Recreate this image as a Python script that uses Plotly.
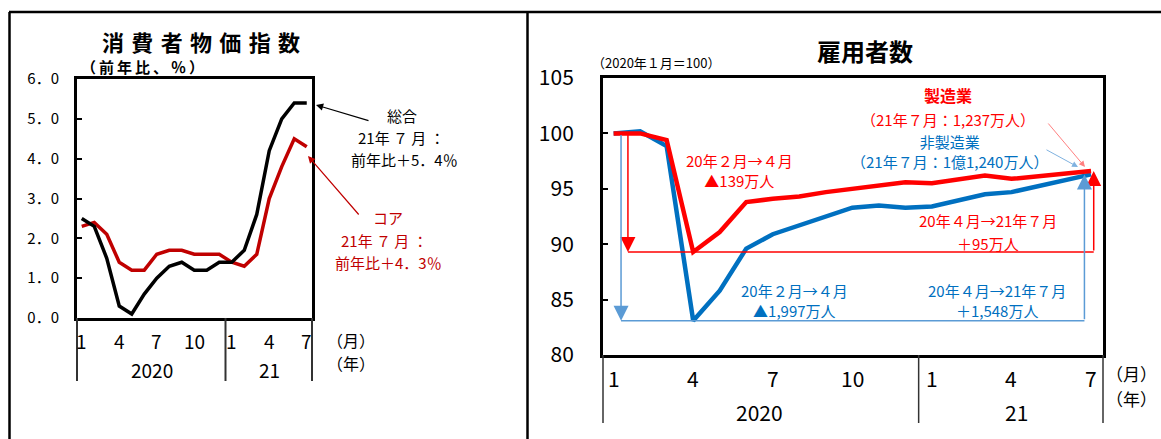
import plotly.graph_objects as go

W, H = 1161, 439

# ---------------- data ----------------
month_idx = list(range(19))  # 2020-01 ... 2021-07
month_ticks = [0, 3, 6, 9, 12, 15, 18]
month_labels = ["1", "4", "7", "10", "1", "4", "7"]
year_labels = ["2020", "21"]
year_centers_left = [5.6, 15.0]
year_centers_right = [5.5, 15.2]

cpi_total = [2.5, 2.3, 1.5, 0.3, 0.1, 0.6, 1.0, 1.3, 1.4, 1.2, 1.2, 1.4,
             1.4, 1.7, 2.6, 4.2, 5.0, 5.4, 5.4]
cpi_core = [2.3, 2.4, 2.1, 1.4, 1.2, 1.2, 1.6, 1.7, 1.7, 1.6, 1.6, 1.6,
            1.4, 1.3, 1.6, 3.0, 3.8, 4.5, 4.3]
cpi_yticks = [0, 1, 2, 3, 4, 5, 6]
cpi_yticktext = ["0．0", "1．0", "2．0", "3．0", "4．0", "5．0", "6．0"]

mfg = [100.0, 100.0, 99.4, 89.3, 91.1, 93.8, 94.1, 94.3, 94.7, 95.0, 95.3, 95.6,
       95.5, 95.8, 96.2, 95.9, 96.1, 96.4, 96.6]
nonmfg = [100.0, 100.2, 98.85, 83.1, 85.8, 89.6, 90.9, 91.7, 92.5, 93.3, 93.5, 93.3,
          93.4, 94.0, 94.5, 94.7, 95.2, 95.8, 96.3]
emp_yticks = [80, 85, 90, 95, 100, 105]

# ---------------- styles ----------------
JP = "Noto Sans CJK JP"
NARROW = "Liberation Sans Narrow, Arial Narrow, Noto Sans CJK JP"
BLACK = "#000000"
DRED = "#C00000"
RED = "#FF0000"
BLUE = "#0070C0"
LBLUE = "#5B9BD5"


def px_x(p):
    return p / W


def px_y(p):
    return 1 - p / H


fig = go.Figure()

# left chart lines
fig.add_trace(go.Scatter(x=month_idx, y=cpi_core, mode="lines",
                         line=dict(color=DRED, width=3.5), xaxis="x", yaxis="y",
                         showlegend=False, hoverinfo="skip"))
fig.add_trace(go.Scatter(x=month_idx, y=cpi_total, mode="lines",
                         line=dict(color=BLACK, width=3.5), xaxis="x", yaxis="y",
                         showlegend=False, hoverinfo="skip"))

# right chart lines
fig.add_trace(go.Scatter(x=month_idx, y=nonmfg, mode="lines",
                         line=dict(color=BLUE, width=4.5), xaxis="x2", yaxis="y2",
                         showlegend=False, hoverinfo="skip"))
fig.add_trace(go.Scatter(x=month_idx, y=mfg, mode="lines",
                         line=dict(color=RED, width=4.5), xaxis="x2", yaxis="y2",
                         showlegend=False, hoverinfo="skip"))

L_top, L_bot = 79, 318
R_top, R_bot = 78, 355

fig.update_layout(
    width=W, height=H,
    margin=dict(l=0, r=0, t=0, b=0, pad=0, autoexpand=False),
    paper_bgcolor="white", plot_bgcolor="white",
    xaxis=dict(domain=[px_x(77), px_x(312)], range=[-0.38, 18.42],
               showgrid=False, zeroline=False, showticklabels=False, ticks="",
               showline=True, mirror=True, linecolor=BLACK, linewidth=3),
    yaxis=dict(domain=[px_y(L_bot), px_y(L_top)], range=[0, 6],
               showgrid=False, zeroline=False, showline=True, mirror=True,
               linecolor=BLACK, linewidth=3, ticks="inside", ticklen=5,
               tickwidth=1.5, tickcolor=BLACK, tickvals=cpi_yticks,
               ticktext=cpi_yticktext, ticklabelstandoff=12,
               tickfont=dict(family=JP, size=15, color=BLACK)),
    xaxis2=dict(domain=[px_x(603), px_x(1103)], range=[-0.4, 18.45],
                showgrid=False, zeroline=False, showticklabels=False, ticks="",
                showline=True, mirror=True, linecolor=BLACK, linewidth=3,
                anchor="y2"),
    yaxis2=dict(domain=[px_y(R_bot), px_y(R_top)], range=[80, 105],
                showgrid=False, zeroline=False, showline=True, mirror=True,
                linecolor=BLACK, linewidth=3, ticks="inside", ticklen=5,
                tickwidth=1.5, tickcolor=BLACK, tickvals=emp_yticks,
                ticklabelstandoff=22, anchor="x2",
                tickfont=dict(family=NARROW, size=21, color=BLACK)),
)

shapes = []
# outer frame
shapes.append(dict(type="line", xref="paper", yref="paper", x0=px_x(9), x1=1,
                   y0=px_y(12), y1=px_y(12), line=dict(color=BLACK, width=2.5)))
shapes.append(dict(type="line", xref="paper", yref="paper", x0=px_x(9.5), x1=px_x(9.5),
                   y0=px_y(12), y1=0, line=dict(color=BLACK, width=2.5)))
shapes.append(dict(type="line", xref="paper", yref="paper", x0=px_x(527.5), x1=px_x(527.5),
                   y0=px_y(12), y1=0, line=dict(color=BLACK, width=2.5)))

# year separators left
for xr, xv in (("x domain", 0), ("x", 11.5), ("x domain", 1)):
    shapes.append(dict(type="line", xref=xr, yref="paper", x0=xv, x1=xv,
                       y0=px_y(L_bot), y1=px_y(381), line=dict(color="#333333", width=2)))
# year separators right
for xr, xv in (("x2 domain", 0), ("x2", 11.5), ("x2 domain", 1)):
    shapes.append(dict(type="line", xref=xr, yref="paper", x0=xv, x1=xv,
                       y0=px_y(R_bot), y1=px_y(423), line=dict(color="#333333", width=1.5)))

# brackets (horizontal parts) on right chart
shapes.append(dict(type="line", xref="x2", yref="y2", x0=0.54, x1=18.1,
                   y0=mfg[3], y1=mfg[3], line=dict(color=RED, width=1.5)))
shapes.append(dict(type="line", xref="x2", yref="y2", x0=0.28, x1=17.75,
                   y0=nonmfg[3], y1=nonmfg[3], line=dict(color=LBLUE, width=1.5)))
fig.update_layout(shapes=shapes)

ann = []


def text(x, y, s, size, color=BLACK, family=JP, bold=False, xref="paper", yref="paper",
         xanchor="center"):
    if bold:
        s = "<b>" + s + "</b>"
    if xref == "paper":
        x = px_x(x)
    if yref == "paper":
        y = px_y(y)
    ann.append(dict(x=x, y=y, xref=xref, yref=yref, text=s, showarrow=False,
                    xanchor=xanchor, yanchor="middle",
                    font=dict(family=family, size=size, color=color)))


# ---- left chart texts
text(201, 41, "\u2004".join("消費者物価指数"), 22, bold=True)
text(142, 67, "\u2009".join("（前年比、％）"), 15, bold=True)
for v, lab in zip(month_ticks, month_labels):
    text(v, 340, lab, 19, xref="x")
for c, lab in zip(year_centers_left, year_labels):
    text(c, 369, lab, 19, xref="x")
text(351, 340, "（月）", 16)
text(351, 363, "（年）", 16)

text(402, 115, "総合", 15)
text(401, 137, "21年 ７ 月 ：", 15)
text(404, 159, "前年比＋5．4％", 15)
text(388, 218, "コア", 15, color=DRED)
text(384, 240, "21年 ７ 月 ：", 15, color=DRED)
text(388, 262, "前年比＋4．3％", 15, color=DRED)

# ---- right chart texts
text(865, 50, "雇用者数", 24, bold=True)
text(656, 63, "（2020年１月＝100）", 13)
for v, lab in zip(month_ticks, month_labels):
    text(v, 378, lab, 21, xref="x2", family=NARROW)
for c, lab in zip(year_centers_right, year_labels):
    text(c, 412, lab, 21, xref="x2", family=NARROW)
text(1131, 373, "（月）", 17)
text(1131, 398, "（年）", 17)

text(948, 95, "製造業", 16, color=RED, bold=True)
text(948, 120, "（21年７月：1,237万人）", 15, color=RED)
text(949, 151, "非製造業<br>（21年７月：1億1,240万人）", 15, color=BLUE)
text(739, 170, "20年２月→４月<br>▲139万人", 15, color=RED)
text(988, 220, "20年４月→21年７月", 15, color=RED)
text(988, 243, "＋95万人", 15, color=RED)
text(794, 300, "20年２月→４月<br>▲1,997万人", 15, color=BLUE)
text(997, 300, "20年４月→21年７月<br>＋1,548万人", 15, color=BLUE)


def arrow_px(x, y, ax, ay, color, width=1.0, head=2, size=1.2):
    ann.append(dict(x=px_x(x), y=px_y(y), xref="paper", yref="paper",
                    ax=ax - x, ay=ay - y, axref="pixel", ayref="pixel",
                    showarrow=True, arrowhead=head, arrowsize=size,
                    arrowwidth=width, arrowcolor=color, text=""))


def arrow_data(x, y, ax, ay, color, width=1.5, head=2, size=2.0):
    ann.append(dict(x=x, y=y, xref="x2", yref="y2", ax=ax, ay=ay,
                    axref="x2", ayref="y2", showarrow=True, arrowhead=head,
                    arrowsize=size, arrowwidth=width, arrowcolor=color, text=""))


# left chart pointers
arrow_px(316, 105, 370, 121, BLACK, width=1.2)
arrow_px(308, 156, 360, 216, DRED, width=1.2)

# right chart pointers
arrow_px(1085, 167, 1047, 122, "#FF8080", width=1.0)
arrow_px(1078, 167, 1045, 149, "#7FB2E0", width=1.0)

# right chart brackets (vertical parts with arrowheads)
arrow_data(0.54, mfg[3], 0.54, mfg[0], RED)
arrow_data(18.1, mfg[18], 18.1, mfg[3], RED)
arrow_data(0.28, nonmfg[3], 0.28, nonmfg[0], LBLUE)
arrow_data(17.75, nonmfg[18], 17.75, nonmfg[3], LBLUE)

fig.update_layout(annotations=ann)

fig.write_html("out.html")
